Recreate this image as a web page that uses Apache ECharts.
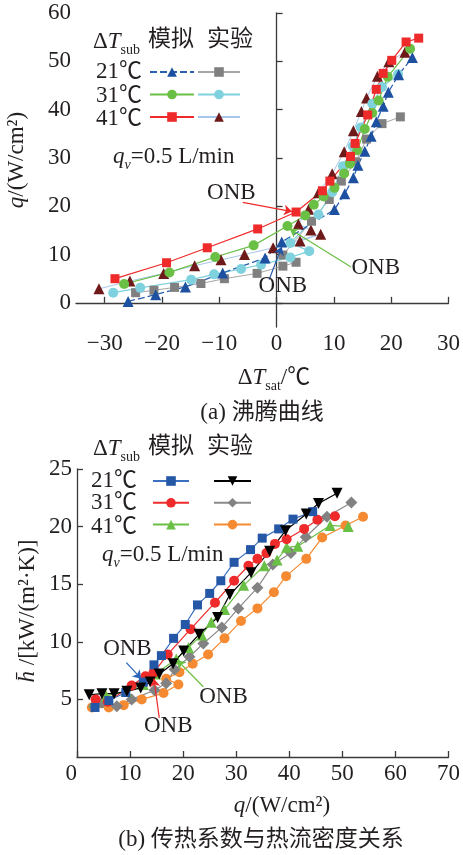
<!DOCTYPE html>
<html><head><meta charset="utf-8">
<script src="https://cdn.jsdelivr.net/npm/echarts@6/dist/echarts.min.js"></script>
<style>html,body{margin:0;padding:0;background:#fff}#c{width:463px;height:855px}</style>
</head><body><div id="c"></div>
<script>
// ---------- (a) boiling curve: [ΔT_sat (°C), q (W/cm²)] ----------
const aSim21 = [[-25.9,0.3],[-21.1,1.7],[-15.9,3.3],[-9.4,6.2],[-2.0,9.3],[0.9,12.6],[10.1,19.3],[11.9,22.6],[13.4,25.9],[14.2,28.5],[15.4,31.4],[16.5,34.5],[17.4,37.5],[18.6,40.7],[19.5,43.6],[21.3,47.2],[23.7,50.8]];
const aExp21 = [[-24.6,2.1],[-21.4,2.6],[-17.8,3.2],[-13.2,4.0],[-9.1,5.0],[-3.4,6.1],[1.1,7.6],[3.4,8.4],[1.1,9.9],[6.1,16.9],[9.2,21.4],[11.3,25.2],[13.8,29.2],[15.7,33.9],[18.4,37.1],[21.6,38.5]];
const aSim31 = [[-26.6,3.9],[-18.7,6.3],[-10.7,9.5],[-4.0,11.9],[1.9,15.9],[5.0,18.1],[6.5,20.3],[8.2,22.0],[10.1,23.8],[11.8,26.8],[12.8,28.8],[14.1,31.6],[15.4,36.0],[16.7,39.3],[17.8,41.9],[19.4,46.8],[23.3,52.6]];
const aExp31 = [[-28.5,2.1],[-23.8,3.1],[-14.9,4.8],[-10.9,5.9],[-6.2,7.0],[-2.7,7.9],[2.4,9.4],[5.7,10.7],[2.4,12.4],[7.3,18.3],[9.7,22.9],[11.6,28.3],[13.3,32.4],[14.7,36.3],[16.7,41.2],[18.4,44.7],[21.2,47.3]];
const aSim41 = [[-28.2,5.0],[-19.2,8.3],[-12.1,11.4],[-3.3,15.3],[3.4,18.8],[8.0,23.2],[9.3,25.2],[12.9,30.3],[13.7,33.0],[15.9,38.9],[17.4,44.2],[18.6,47.5],[20.1,50.2],[22.6,54.0],[24.8,54.8]];
const aExp41 = [[-31.0,2.9],[-25.6,4.5],[-19.7,6.1],[-14.3,7.7],[-9.7,8.9],[-5.6,10.0],[-0.6,11.4],[7.7,14.2],[4.1,12.8],[6.0,15.1],[3.8,16.3],[5.6,19.4],[7.3,22.8],[9.7,26.7],[11.8,31.3],[13.4,35.6],[14.8,39.6],[15.7,42.4],[17.6,46.9],[19.6,49.9],[22.4,51.9]];
// ---------- (b) heat transfer coefficient: [q (W/cm²), h (kW/(m²·K))] ----------
const bSim21 = [[3.4,4.3],[6.0,4.9],[9.2,5.6],[12.5,6.5],[14.5,8.0],[15.9,8.8],[18.2,10.3],[20.4,11.5],[22.7,13.2],[25.0,14.2],[27.1,15.3],[29.6,16.9],[32.7,18.0],[34.9,19.0],[38.0,19.8],[40.7,20.65],[44.4,21.3]];
const bSim31 = [[3.5,5.0],[5.8,4.8],[10.3,6.2],[12.9,7.0],[14.4,7.3],[17.1,8.9],[21.4,11.1],[26.0,13.4],[29.6,15.3],[32.3,16.6],[34.0,17.2],[35.7,17.7],[37.3,18.5],[39.5,18.9],[42.8,19.8],[45.3,20.6],[48.6,20.9]];
const bSim41 = [[3.3,4.8],[5.5,5.3],[9.3,5.7],[12.5,6.3],[14.8,7.2],[18.7,8.5],[21.0,9.5],[23.5,10.6],[25.3,11.7],[27.8,12.8],[31.4,14.9],[35.3,16.6],[37.7,17.1],[39.5,18.2],[41.6,18.3],[47.7,20.1],[51.1,20.0]];
const bExp21 = [[2.3,5.4],[4.7,5.5],[7.0,5.5],[9.4,5.7],[12.0,6.0],[13.8,6.5],[15.5,7.2],[18.1,8.1],[20.1,9.2],[23.0,10.65],[26.5,12.1],[28.8,14.1],[32.8,16.0],[36.3,17.85],[39.3,19.65],[43.2,21.1],[45.5,22.0],[49.0,22.9]];
const bExp31 = [[3.2,4.4],[4.7,4.7],[7.5,4.4],[10.3,5.0],[14.6,5.8],[16.8,6.4],[18.4,7.6],[21.2,8.7],[23.8,9.85],[27.3,11.25],[30.4,12.9],[34.0,14.7],[36.9,16.7],[40.3,17.7],[43.1,19.1],[47.1,20.85],[51.7,22.1]];
const bExp41 = [[2.8,4.3],[6.0,4.3],[8.8,4.5],[12.2,5.0],[16.3,5.55],[19.1,6.3],[16.8,6.8],[19.3,7.35],[21.8,8.1],[24.7,8.9],[27.8,10.3],[30.9,11.8],[34.0,12.9],[37.1,14.3],[39.4,15.7],[43.2,17.2],[46.2,19.05],[50.6,20.1],[53.9,20.85]];
// ---------- ticks ----------
const aXTicks = [-30,-20,-10,0,10,20,30];
const aYTicks = [0,10,20,30,40,50,60];
const bXTicks = [0,10,20,30,40,50,60,70];
const bYTicks = [5,10,15,20,25];
const subLabels = ['21℃','31℃','41℃'];
// ---------- ONB annotations (data units): text position, arrow start, arrow tip ----------
const aONB = [
  {c:'#ee2a2a', t:[-7.9,22.8], s:[-5.9,20.8], e:[2.7,18.9]},
  {c:'#6abf45', t:[17.3,7.3],  s:[13.0,7.4],  e:[2.3,15.3]},
  {c:'#2155a5', t:[1.1,3.4],   s:[-1.3,4.8],  e:[0.9,11.6]}
];
const bONB = [
  {c:'#2a63b8', t:[9.5,9.4],  s:[9.3,8.2],  e:[12.1,6.8]},
  {c:'#ee2a2a', t:[17.2,2.7], s:[15.5,3.4], e:[14.5,6.8]},
  {c:'#6abf45', t:[27.6,5.2], s:[23.8,6.1], e:[18.9,8.4]}
];

const FONT = "'Liberation Serif','Noto Sans CJK SC',serif";
const INK = '#231f20';
const FS = 23;
const minus = v => String(v).replace('-', '\u2212');

function axisCommon(){
  return {
    axisLine:{lineStyle:{color:'#3a3a3a', width:1.3}},
    axisTick:{inside:true, length:6, lineStyle:{color:'#3a3a3a', width:1.3}},
    splitLine:{show:false},
    axisLabel:{fontFamily:FONT, fontSize:FS, color:INK, margin:5, formatter:minus}
  };
}
function mk(base, extra){
  const o = JSON.parse(JSON.stringify(base));
  o.axisLabel.formatter = minus;
  for (const k in extra) {
    if (typeof extra[k]==='object' && !Array.isArray(extra[k]) && o[k]) Object.assign(o[k], extra[k]);
    else o[k] = extra[k];
  }
  return o;
}
const ac = axisCommon();
const xA0 = mk(ac,{type:'value', gridIndex:0, min:-35, max:30, axisLabel:{customValues:aXTicks, formatter:minus}, axisTick:{customValues:aXTicks}});
const yA0 = mk(ac,{type:'value', gridIndex:0, min:-5, max:60, axisLabel:{customValues:aYTicks, formatter:minus}, axisTick:{customValues:aYTicks}});
const xA1 = mk(ac,{type:'value', gridIndex:1, min:0, max:70, interval:10, axisLabel:{customValues:bXTicks, alignMinLabel:'right', formatter:minus}, axisTick:{customValues:bXTicks}});
const yA1 = mk(ac,{type:'value', gridIndex:1, min:0, max:25, interval:5, axisLabel:{customValues:bYTicks, formatter:minus}, axisTick:{customValues:bYTicks}});

function onbMarks(list){
  return {
    markLine:{silent:true, animation:false, symbolSize:[0,8],
      label:{show:false},
      data: list.map(a => [
        {coord:a.s, symbol:'none', lineStyle:{color:a.c, width:1.2, type:'solid'}},
        {coord:a.e, symbol:'arrow', symbolSize:8}
      ])},
    markPoint:{silent:true, animation:false,
      data: list.map(a => ({coord:a.t, symbol:'rect', symbolSize:1, itemStyle:{color:'rgba(0,0,0,0)'},
        label:{show:true, position:'inside', formatter:'ONB', fontFamily:FONT, fontSize:FS, color:INK}}))}
  };
}

function line(name, data, gi, o){
  const s = {
    name, type:'line', data, xAxisIndex:gi, yAxisIndex:gi,
    symbol:o.sym, symbolSize:o.size, symbolRotate:o.rot||0,
    itemStyle:{color:o.mc, borderWidth:0},
    lineStyle:{color:o.lc, width:o.lw||1.2, type:o.dash||'solid'},
    color:o.mc, animation:false, clip:false, z:o.z||2
  };
  if (o.marks) Object.assign(s, o.marks);
  return s;
}

const series = [
  line('a-exp41', aExp41, 0, {sym:'triangle', size:11, mc:'#6e1a1a', lc:'#a8c6ea', lw:1}),
  line('a-exp21', aExp21, 0, {sym:'rect', size:9, mc:'#808080', lc:'#a6a6a6', lw:1}),
  line('a-exp31', aExp31, 0, {sym:'circle', size:10, mc:'#7fd2dd', lc:'#7fd2dd', lw:1.2}),
  line('a-sim21', aSim21, 0, {sym:'triangle', size:11, mc:'#1d50a0', lc:'#2a5fb0', lw:1.3, dash:[7,3],
       marks: onbMarks([aONB[2]])}),
  line('a-sim31', aSim31, 0, {sym:'circle', size:10, mc:'#6abf45', lc:'#6abf45', lw:1.2, marks: onbMarks([aONB[1]])}),
  line('a-sim41', aSim41, 0, {sym:'rect', size:9, mc:'#ee2a2a', lc:'#ee2a2a', lw:1.2, marks: onbMarks([aONB[0]])}),

  line('b-exp41', bExp41, 1, {sym:'circle', size:10, mc:'#f58a32', lc:'#f58a32', lw:1.2}),
  line('b-exp31', bExp31, 1, {sym:'diamond', size:12, mc:'#828282', lc:'#8a8a8a', lw:1.2}),
  line('b-sim41', bSim41, 1, {sym:'triangle', size:11, mc:'#6abf45', lc:'#6abf45', lw:1.2, marks: onbMarks([bONB[2]])}),
  line('b-sim31', bSim31, 1, {sym:'circle', size:10, mc:'#ee2a2a', lc:'#ee2a2a', lw:1.2, marks: onbMarks([bONB[1]])}),
  line('b-sim21', bSim21, 1, {sym:'rect', size:9, mc:'#2557a7', lc:'#3b6fc0', lw:1.2, marks: onbMarks([bONB[0]])}),
  line('b-exp21', bExp21, 1, {sym:'triangle', size:11, rot:180, mc:'#000000', lc:'#000000', lw:1.2})
];

function legend(names, left, top, w, h, gap){
  return {data:names, orient:'vertical', left, top, itemWidth:w, itemHeight:h, itemGap:gap,
    padding:0, selectedMode:false, formatter:()=>'', textStyle:{fontSize:1}, symbolRotate:'inherit'};
}

const rich = {
  i:{fontFamily:FONT, fontSize:FS, fontStyle:'italic', fill:INK, lineHeight:30},
  n:{fontFamily:FONT, fontSize:FS, fill:INK, lineHeight:30},
  s:{fontFamily:FONT, fontSize:14, fill:INK, lineHeight:14, verticalAlign:'bottom'},
  si:{fontFamily:FONT, fontSize:14, fontStyle:'italic', fill:INK, lineHeight:14, verticalAlign:'bottom'}
};
function T(x, y, text, align, rot){
  return {type:'text', x, y, rotation:rot||0, silent:true,
    style:{text, rich, fontFamily:FONT, fontSize:FS, fill:INK, align:align||'center', verticalAlign:'middle'}};
}

const graphics = [
  // (a)
  T(93, 42, '{n|Δ}{i|T}{s|sub}', 'left'),
  T(171, 40, '{n|模拟}'),
  T(230, 40, '{n|实验}'),
  T(142, 72, '{n|'+subLabels[0]+'}', 'right'),
  T(142, 96, '{n|'+subLabels[1]+'}', 'right'),
  T(142, 119, '{n|'+subLabels[2]+'}', 'right'),
  T(113, 157, '{i|q}{si|v}{n|=0.5 L/min}', 'left'),
  T(274, 378, '{n|Δ}{i|T}{s|sat}{n|/℃}'),
  T(17, 160, '{i|q}{n|/(W/cm²)}', 'center', Math.PI/2),
  T(262, 413, '{n|(a) 沸腾曲线}'),
  // (b)
  T(93, 449, '{n|Δ}{i|T}{s|sub}', 'left'),
  T(171, 447, '{n|模拟}'),
  T(230, 447, '{n|实验}'),
  T(137, 481, '{n|'+subLabels[0]+'}', 'right'),
  T(137, 503, '{n|'+subLabels[1]+'}', 'right'),
  T(137, 527, '{n|'+subLabels[2]+'}', 'right'),
  T(102, 555, '{i|q}{si|v}{n|=0.5 L/min}', 'left'),
  T(282, 806, '{i|q}{n|/(W/cm²)}'),
  T(28, 611, '{i|h\u0304}{n| /[kW/(m²·K)]}', 'center', Math.PI/2),
  T(261, 840, '{n|(b) 传热系数与热流密度关系}')
];

const chart = echarts.init(document.getElementById('c'), null, {renderer:'canvas'});
chart.setOption({
  backgroundColor:'#fff',
  animation:false,
  textStyle:{fontFamily:FONT},
  grid:[
    {left:76, top:13, width:378, height:314},
    {left:77, top:469, width:372, height:288}
  ],
  xAxis:[xA0, xA1],
  yAxis:[yA0, yA1],
  legend:[
    legend(['a-sim21','a-sim31','a-sim41'], 149, 66, 44, 12, 11.7),
    legend(['a-exp21','a-exp31','a-exp41'], 197, 66, 42, 12, 11.7),
    legend(['b-sim21','b-sim31','b-sim41'], 152, 475, 36, 12, 11),
    legend(['b-exp21','b-exp31','b-exp41'], 213, 475, 37, 12, 11)
  ],
  series,
  graphic: graphics
});
</script>
</body></html>
